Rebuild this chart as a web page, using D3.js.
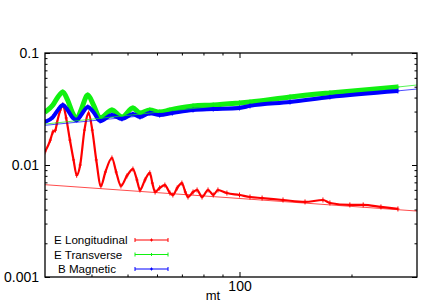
<!DOCTYPE html>
<html>
<head>
<meta charset="utf-8">
<script src="https://cdn.jsdelivr.net/npm/d3@7"></script>
<style>
  body { margin: 0; background: #fff; }
  svg { display: block; font-family: "Liberation Sans", Arial, sans-serif; }
  .axis path.domain { display: none; }
  .axis line { stroke: #000; stroke-width: 1; }
  .axis text { font-size: 14px; fill: #000; }
</style>
</head>
<body>
<div id="chart"></div>
<script>
// series values: [mt, value]
var longitudinal = [
    [30, 0.0131], [31, 0.0167], [31.5, 0.0197], [32, 0.0205], [32.3, 0.0237], [33, 0.031],
    [33.5, 0.0343], [34.2, 0.0263], [35, 0.0167], [35.8, 0.0111], [36.5, 0.0081], [37.3, 0.0100],
    [38.3, 0.0205], [39.3, 0.0291], [40.2, 0.0205], [41.2, 0.0111], [42.4, 0.0065], [43.6, 0.00866],
    [45.4, 0.01155], [46.6, 0.00866], [48, 0.0065], [49.8, 0.00798], [51.7, 0.0092], [53, 0.00735],
    [54, 0.00598], [55.7, 0.00735], [57.4, 0.0085], [58.3, 0.0069], [59.3, 0.00574], [61, 0.00624],
    [63, 0.00662], [65, 0.00562], [66.2, 0.0054], [68, 0.00624], [70, 0.0069], [71.5, 0.00574],
    [72.7, 0.00518], [75, 0.00574], [76.9, 0.00598], [79.3, 0.00518], [82.3, 0.00598], [85, 0.0054],
    [87.5, 0.00598], [92.5, 0.00562], [100, 0.0054], [106.7, 0.00518], [115, 0.00507], [130.9, 0.00487],
    [150, 0.00468], [167.6, 0.00487], [175, 0.00458], [198, 0.0044], [215, 0.0044], [240, 0.00422],
    [266.6, 0.00405]
];
var transverse = [
    [30, 0.0297], [31.5, 0.0343], [32.5, 0.0405], [33.5, 0.0449], [34.5, 0.038], [35.5, 0.0297],
    [36.5, 0.0258], [37.5, 0.031], [39.1, 0.0422], [40.5, 0.0343], [42.2, 0.0263], [45.4, 0.031],
    [48.3, 0.0268], [51.7, 0.0323], [54, 0.0291], [57.4, 0.031], [61, 0.0297], [65, 0.031],
    [75, 0.0337], [85, 0.0343], [100, 0.0358], [106.7, 0.0365], [136.7, 0.0405], [175, 0.044],
    [266.6, 0.0497]
];
var magnetic = [
    [30, 0.0242], [31.5, 0.0268], [32.5, 0.031], [33.5, 0.0343], [34.5, 0.031], [35.5, 0.0268],
    [36.5, 0.0252], [37.5, 0.0279], [39.1, 0.033], [40.5, 0.0297], [42.2, 0.0247], [45.4, 0.0279],
    [48.3, 0.0258], [51.7, 0.0285], [54, 0.0268], [57.4, 0.0291], [61, 0.0279], [66, 0.0291],
    [75, 0.031], [85, 0.0316], [100, 0.0323], [106.7, 0.0337], [136.7, 0.0365], [175, 0.0405],
    [266.6, 0.0458]
];
// power-law fits, end points over the x range
var fitLongitudinal = [[30, 0.00667], [300, 0.00388]];
var fitTransverse = [[30, 0.0232], [300, 0.0518]];
var fitMagnetic = [[30, 0.0226], [300, 0.0477]];

var seriesNames = ["E Longitudinal", "E Transverse", "B Magnetic"];
var xMajor = [100], xMinor = [40, 50, 60, 70, 80, 90, 200];
var yMajor = [0.1, 0.01, 0.001], yLabels = ["0.1", "0.01", "0.001"];
var yMinor = [0.002, 0.003, 0.004, 0.005, 0.006, 0.007, 0.008, 0.009,
              0.02, 0.03, 0.04, 0.05, 0.06, 0.07, 0.08, 0.09];

var width = 432, height = 303,
    margins = {top: 53, right: 15, bottom: 26, left: 45},
    w = width - margins.left - margins.right,
    h = height - margins.top - margins.bottom;

var colors = ["#ff0000", "#11f011", "#0000ff"],
    bandWidth = [2.2, 5, 4];

var svg = d3.select("#chart").append("svg")
    .attr("width", width)
    .attr("height", height);

var g = svg.append("g")
    .attr("transform", "translate(" + margins.left + "," + margins.top + ")");

var x = d3.scaleLog().domain([30, 300]).range([0, w]);
var y = d3.scaleLog().domain([0.001, 0.1]).range([h, 0]);

g.append("clipPath").attr("id", "plot-clip")
  .append("rect").attr("width", w).attr("height", h);

// axes, ticks pointing inward
function addAxis(axis, values, size, cls, tr, fmt) {
    var a = g.append("g").attr("class", "axis " + cls)
        .attr("transform", tr)
        .call(axis.tickValues(values).tickSize(-size).tickPadding(6).tickFormat(fmt));
    return a;
}
var none = function() { return ""; };

addAxis(d3.axisLeft(y), yMajor, 5, "y", null, function(d, i) { return yLabels[i]; });
addAxis(d3.axisLeft(y), yMinor, 2.5, "y minor", null, none);
addAxis(d3.axisRight(y), yMajor, 5, "y2", "translate(" + w + ",0)", none);
addAxis(d3.axisRight(y), yMinor, 2.5, "y2 minor", "translate(" + w + ",0)", none);
addAxis(d3.axisBottom(x), xMajor, 5, "x", "translate(0," + h + ")", d3.format("d"));
addAxis(d3.axisBottom(x), xMinor, 2.5, "x minor", "translate(0," + h + ")", none);
addAxis(d3.axisTop(x), xMajor, 5, "x2", null, none);
addAxis(d3.axisTop(x), xMinor, 2.5, "x2 minor", null, none);

g.selectAll(".x text").attr("dy", "0.75em").attr("y", 3);

var plot = g.append("g").attr("clip-path", "url(#plot-clip)");

var line = d3.line()
    .x(function(d) { return x(d[0]); })
    .y(function(d) { return y(d[1]); })
    .curve(d3.curveMonotoneX);

var straight = d3.line()
    .x(function(d) { return x(d[0]); })
    .y(function(d) { return y(d[1]); });

var allSeries = [longitudinal, transverse, magnetic];
var fits = [fitLongitudinal, fitTransverse, fitMagnetic];

allSeries.forEach(function(data, i) {
    plot.append("path")
        .datum(data)
        .attr("d", line)
        .attr("fill", "none")
        .attr("stroke", colors[i])
        .attr("stroke-width", bandWidth[i])
        .attr("stroke-linejoin", "round");

    // point markers with small error bars
    var m = plot.selectAll(".m" + i).data(data).enter().append("g")
        .attr("class", "m" + i)
        .attr("transform", function(d) { return "translate(" + x(d[0]) + "," + y(d[1]) + ")"; });
    m.append("path")
        .attr("d", "M-1.5,0H1.5M0,-2.5V2.5")
        .attr("stroke", colors[i])
        .attr("stroke-width", 1)
        .attr("fill", "none");
});

fits.forEach(function(data, i) {
    plot.append("path")
        .datum(data)
        .attr("d", straight)
        .attr("fill", "none")
        .attr("stroke", colors[i])
        .attr("stroke-opacity", 0.7)
        .attr("stroke-width", 1);
});

// frame
g.append("rect")
    .attr("width", w).attr("height", h)
    .attr("fill", "none")
    .attr("stroke", "#000")
    .attr("stroke-width", 1.3);

// axis title
svg.append("text")
    .attr("x", 213).attr("y", 300)
    .attr("text-anchor", "middle")
    .style("font-size", "13px")
    .text("mt");

// legend
var legendIndent = [54, 54, 58];
var legend = svg.selectAll(".legend").data(seriesNames).enter().append("g")
    .attr("class", "legend")
    .attr("transform", function(d, i) { return "translate(0," + (240 + i * 14.5) + ")"; });

legend.append("text")
    .attr("x", function(d, i) { return legendIndent[i]; })
    .attr("y", 4)
    .style("font-size", "11.6px")
    .text(function(d) { return d; });

legend.append("path")
    .attr("d", "M135,0H168M135,-2V2M168,-2V2M150,0H153M151.5,-1.5V1.5")
    .attr("stroke", function(d, i) { return colors[i]; })
    .attr("stroke-width", 1)
    .attr("fill", "none");
</script>
</body>
</html>
